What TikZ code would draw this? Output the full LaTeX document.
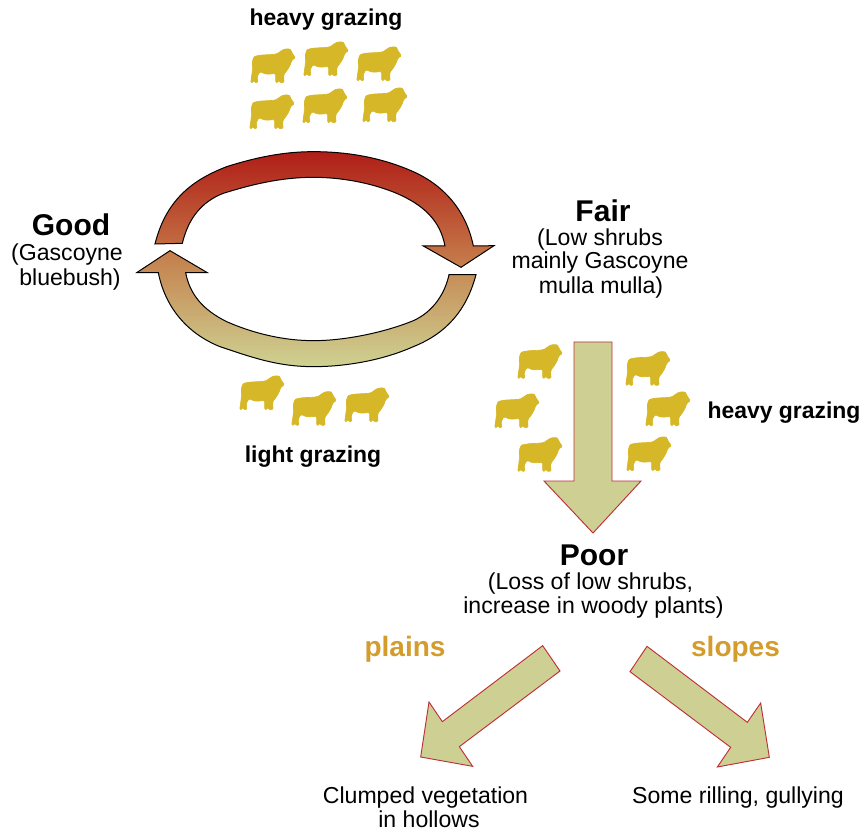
\documentclass[tikz,border=0pt]{standalone}
\usepackage{fontspec}
\setmainfont{Liberation Sans}
\definecolor{sheepc}{HTML}{D6B727}
\definecolor{khaki}{HTML}{CDD092}
\definecolor{edgered}{HTML}{BE3039}
\definecolor{labelc}{HTML}{D39C2B}
\tikzset{
  x=0.75pt,y=-0.75pt,
  big/.style={font=\fontsize{22.5}{24}\selectfont\bfseries,anchor=base},
  graze/.style={font=\fontsize{17.2}{18}\selectfont\bfseries,anchor=base},
  body/.style={font=\fontsize{17.3}{18}\selectfont,anchor=base},
  terrain/.style={font=\fontsize{21}{22}\selectfont\bfseries,text=labelc,anchor=base},
  blockarrow/.style={fill=khaki,draw=edgered,line width=0.7pt,line join=miter},
  cyclearrow/.style={draw=black,line width=0.75pt,line join=miter},
  sheep/.pic={
    \filldraw[sheepc,line width=0.5pt,line join=round,rounded corners=1pt]
      (-20.5,-4.3) .. controls (-20,-8) and (-18.5,-9.5) .. (-16.7,-10)
      .. controls (-10,-11.5) and (-3,-11) .. (3.3,-12)
      .. controls (6,-13) and (8.5,-16) .. (11.7,-16.7)
      .. controls (14,-17.2) and (17,-17) .. (18,-15.5)
      -- (20.2,-11) -- (22.7,-8.3) -- (18.8,-6)
      .. controls (17.5,-1) and (15,3.5) .. (10.7,8.5)
      -- (11,16.7) -- (6.7,16.7) -- (5.7,13) -- (5,16.7) -- (2.7,16.7) -- (2.7,7.5)
      .. controls (-1,7.8) and (-4,8.2) .. (-6.7,8)
      .. controls (-9,7.5) and (-11,6.5) .. (-13,5.5)
      -- (-16,11) -- (-15,16.7) -- (-18.3,16.7) -- (-19.3,13.5) -- (-20,16.7) -- (-22.3,16.7)
      -- (-20.7,5.7) -- cycle;
  }
}
\begin{document}
\begin{tikzpicture}
\useasboundingbox (0,0) rectangle (867,830);
% cycle arrows
\begin{scope}[shift={(130,140)},x=0.25pt,y=-0.25pt]
\path[cyclearrow,shade,top color={rgb,255:red,176;green,30;blue,23},bottom color={rgb,255:red,198;green,127;blue,76}]
  (75,312) .. controls (110,170) and (200,115) .. (290,80)
  .. controls (400,45) and (480,35) .. (550,35)
  .. controls (660,35) and (760,55) .. (850,95)
  .. controls (950,140) and (1010,220) .. (1030,318)
  -- (1092,317) -- (993,382) -- (880,318) -- (945,318)
  .. controls (930,240) and (880,195) .. (800,160)
  .. controls (720,127) and (630,112) .. (550,112)
  .. controls (450,112) and (360,135) .. (280,160)
  .. controls (215,185) and (175,235) .. (157,310) -- cycle;
\path[cyclearrow,shade,top color={rgb,255:red,196;green,125;blue,74},bottom color={rgb,255:red,206;green,210;blue,146}]
  (957,404) -- (1038,404)
  .. controls (1010,510) and (950,580) .. (850,620)
  .. controls (760,660) and (650,680) .. (550,680)
  .. controls (440,680) and (360,650) .. (270,620)
  .. controls (170,580) and (105,500) .. (85,398)
  -- (20,398) -- (120,332) -- (232,398) -- (167,398)
  .. controls (180,465) and (220,510) .. (290,545)
  .. controls (370,580) and (460,602) .. (550,602)
  .. controls (650,602) and (770,575) .. (850,542)
  .. controls (910,515) and (945,460) .. (957,404) -- cycle;
\end{scope}
% block arrows
\draw[blockarrow] (574,342) -- (612,342) -- (612,481) -- (641,481) -- (593,533) -- (544,481) -- (574,481) -- cycle;
\begin{scope}[shift={(400,630)},x=0.25pt,y=-0.25pt]
\draw[blockarrow] (428,47) -- (480,123) -- (178,350) -- (218,409) -- (62,381) -- (87,216) -- (127,275) -- cycle;
\draw[blockarrow] (741,49) -- (690,125) -- (992,352) -- (952,411) -- (1108,382) -- (1082,219) -- (1042,277) -- cycle;
\end{scope}
% sheep
\foreach \px/\py in {273/66,326/59,379/64,272/112,325/106,385/105,
  262/393,314/408.7,367/405,
  540/361.7,648/368.7,517/411,668/409,540/454.7,649/454}
  \pic at (\px,\py) {sheep};
% text
\node[graze] (hg1) at (326,26) {heavy grazing};
\node[big] (good) at (71,236) {Good};
\node[body] (g1) at (67,261) {(Gascoyne};
\node[body] (g2) at (70,286) {bluebush)};
\node[big] (fair) at (603,222) {Fair};
\node[body] (f1) at (600,246) {(Low shrubs};
\node[body] (f2) at (600,269) {mainly Gascoyne};
\node[body] (f3) at (601,294) {mulla mulla)};
\node[graze] (hg2) at (784,418) {heavy grazing};
\node[graze] (lg) at (313,462) {light grazing};
\node[big] (poor) at (594,565) {Poor};
\node[body] (p1) at (590.5,589) {(Loss of low shrubs,};
\node[body] (p2) at (593.5,613) {increase in woody plants)};
\node[terrain] (plains) at (405,656) {plains};
\node[terrain] (slopes) at (735.5,656) {slopes};
\node[body] (c1) at (425.5,803) {Clumped vegetation};
\node[body] (c2) at (429,827) {in hollows};
\node[body] (r1) at (738,803) {Some rilling, gullying};
\end{tikzpicture}
\end{document}
